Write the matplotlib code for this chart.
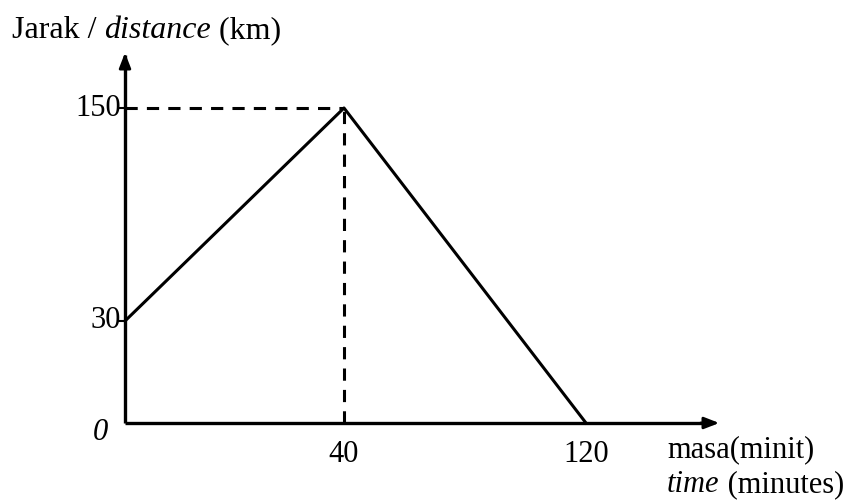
import numpy as np
import matplotlib
matplotlib.use("Agg")
import matplotlib.pyplot as plt


# data
time_pts = [0, 40, 120]
distance_pts = [30, 150, 0]
peak_time = 40
peak_distance = 150
x_ticks = [40, 120]
y_ticks = [30, 150]

# the drawing is not to scale, so map values onto pixel positions piecewise
X_VALS, X_PIX = [0, 40, 120], [125, 344, 586]
Y_VALS, Y_PIX = [0, 30, 150], [78, 180, 393]


def piecewise(v, xs, ys):
    v = np.asarray(v, dtype=float)
    out = np.interp(v, xs, ys)
    lo = (ys[1] - ys[0]) / (xs[1] - xs[0])
    hi = (ys[-1] - ys[-2]) / (xs[-1] - xs[-2])
    out = np.where(v < xs[0], ys[0] + (v - xs[0]) * lo, out)
    out = np.where(v > xs[-1], ys[-1] + (v - xs[-1]) * hi, out)
    return out


def fx(v):
    return piecewise(v, X_VALS, X_PIX)


def fx_inv(p):
    return piecewise(p, X_PIX, X_VALS)


def fy(v):
    return piecewise(v, Y_VALS, Y_PIX)


def fy_inv(p):
    return piecewise(p, Y_PIX, Y_VALS)


plt.rcParams["font.family"] = ["Liberation Serif", "DejaVu Serif"]
FS = 22

fig = plt.figure(figsize=(8.66, 5.01), dpi=100)
ax = fig.add_axes([0, 0, 1, 1])
ax.set_xscale("function", functions=(fx, fx_inv))
ax.set_yscale("function", functions=(fy, fy_inv))
ax.set_xlim(float(fx_inv(0)), float(fx_inv(866)))
ax.set_ylim(float(fy_inv(0)), float(fy_inv(501)))

# axes with arrows
x_end = float(fx_inv(722))
y_end = float(fy_inv(451))
ax.plot([0, x_end - 3], [0, 0], color="black", lw=2.4, solid_capstyle="butt")
ax.plot([0, 0], [0, y_end - 3], color="black", lw=2.4, solid_capstyle="butt")
ax.annotate("", xy=(x_end, 0), xytext=(x_end - 8, 0),
            arrowprops=dict(arrowstyle="-|>,head_length=0.9,head_width=0.35",
                            color="black", lw=2))
ax.annotate("", xy=(0, y_end), xytext=(0, y_end - 8),
            arrowprops=dict(arrowstyle="-|>,head_length=0.9,head_width=0.35",
                            color="black", lw=2))

# graph line and guide lines
ax.plot(time_pts, distance_pts, color="black", lw=2.2)
ax.plot([0, peak_time], [peak_distance, peak_distance], color="black",
        lw=2.2, linestyle=(0, (4, 3)))
ax.plot([peak_time, peak_time], [0, peak_distance], color="black",
        lw=2.2, linestyle=(0, (4, 3)))

# y tick marks and labels
for v in y_ticks:
    ax.plot([float(fx_inv(119)), 0], [v, v], color="black", lw=1.5)
    ax.text(float(fx_inv(121)), v, str(v), ha="right", va="center", fontsize=FS)

for v in x_ticks:
    ax.text(v, float(fy_inv(46)), str(v), ha="center", va="center", fontsize=FS)

ax.text(float(fx_inv(100)), float(fy_inv(69)), "0", ha="center", va="center",
        fontsize=FS, style="italic")

ax.text(float(fx_inv(667)), float(fy_inv(51)), "masa(minit)", ha="left",
        va="center", fontsize=FS)
t1 = ax.text(float(fx_inv(667)), float(fy_inv(16)), "time", ha="left",
             va="center", fontsize=FS, style="italic")

# y axis title with mixed styles
parts = [("Jarak / ", "normal"), ("distance", "italic"), (" (km)", "normal")]
fig.canvas.draw()
renderer = fig.canvas.get_renderer()
xpix = 12
for txt, st in parts:
    t = fig.text(xpix / 866, 1 - 31 / 501, txt, ha="left", va="center",
                 fontsize=23, style=st)
    xpix = t.get_window_extent(renderer).x1

bb = t1.get_window_extent(renderer)
fig.text(bb.x1 / 866, (bb.y0 + bb.height / 2) / 501, " (minutes)",
         ha="left", va="center", fontsize=FS)

ax.axis("off")
fig.savefig("out.png", dpi=100)
